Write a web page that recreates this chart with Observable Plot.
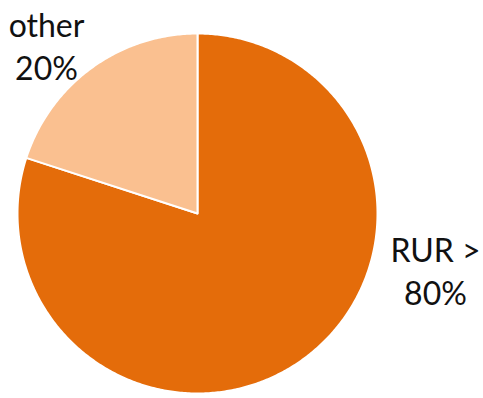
<!DOCTYPE html>
<html>
<head>
<meta charset="utf-8">
<script src="https://cdn.jsdelivr.net/npm/d3@7"></script>
<script src="https://cdn.jsdelivr.net/npm/@observablehq/plot@0.6"></script>
<style>
  html, body { margin: 0; padding: 0; background: #fff; }
</style>
</head>
<body>
<div id="chart"></div>
<script>
// Data
const categories = ["RUR", "other"];
const values = [80, 20];
const labels = ["RUR >\n80%", "other\n20%"];

// Build slice polygons from values (clockwise from 12 o'clock)
const pie = d3.pie().sort(null).value(d => d.value)(
  categories.map((c, i) => ({category: c, value: values[i], label: labels[i]}))
);
const points = [];
for (const s of pie) {
  points.push({category: s.data.category, x: 0, y: 0});
  const n = Math.max(2, Math.ceil((s.endAngle - s.startAngle) / 0.01));
  for (let k = 0; k <= n; k++) {
    const a = s.startAngle + (s.endAngle - s.startAngle) * k / n;
    points.push({category: s.data.category, x: Math.sin(a), y: Math.cos(a)});
  }
}

const W = 483, H = 398, cx = 197, cy = 213, R = 180;

const chart = Plot.plot({
  width: W,
  height: H,
  margin: 0,
  x: {domain: [-cx / R, (W - cx) / R], axis: null},
  y: {domain: [-(H - cy) / R, cy / R], axis: null},
  color: {domain: categories, range: ["#E46C0A", "#FAC090"]},
  style: {fontFamily: "Lato, 'Liberation Sans', Arial, sans-serif", background: "#fff"},
  marks: [
    Plot.line(points, {
      x: "x", y: "y", z: "category", fill: "category",
      stroke: "white", strokeWidth: 2, curve: "linear-closed"
    }),
    Plot.text([pie[1].data], {
      text: "label", frameAnchor: "top-left", textAnchor: "middle", dx: 46, dy: 6,
      lineAnchor: "top", lineHeight: 1.35, fontSize: 32, fill: "#111"
    }),
    Plot.text([pie[0].data], {
      text: "label", frameAnchor: "top-left", textAnchor: "middle", dx: 435, dy: 231,
      lineAnchor: "top", lineHeight: 1.35, fontSize: 32, fill: "#111"
    })
  ]
});
document.getElementById("chart").appendChild(chart);
</script>
</body>
</html>
